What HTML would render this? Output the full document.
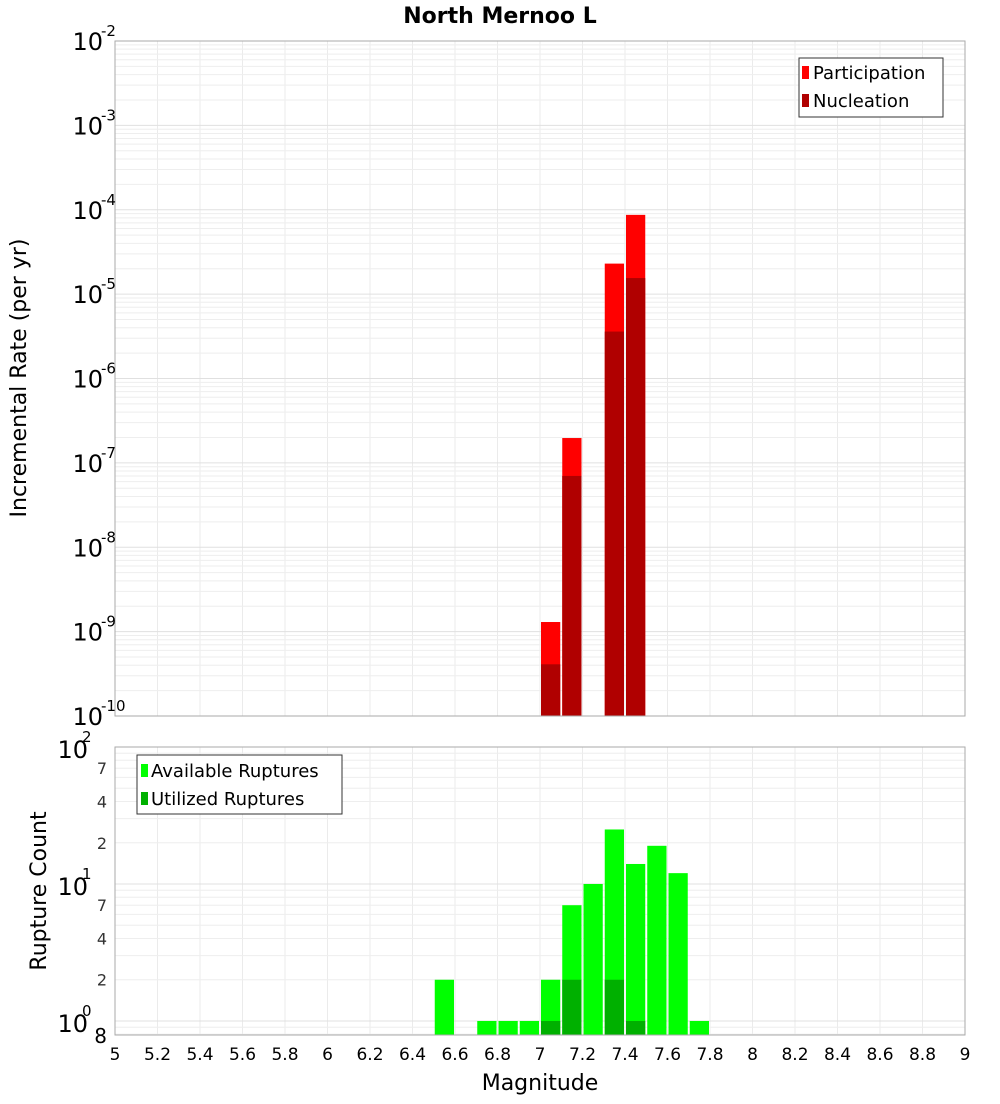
<!DOCTYPE html>
<html><head><meta charset="utf-8"><style>
body{margin:0;background:#fff;font-family:"DejaVu Sans","Liberation Sans",sans-serif}
svg text{font-family:"DejaVu Sans","Liberation Sans",sans-serif}
</style></head><body>
<svg id="c" width="1000" height="1100" xmlns="http://www.w3.org/2000/svg">
<text x="500" y="23" text-anchor="middle" font-size="22" font-weight="bold">North Mernoo L</text>
<text transform="translate(26,378) rotate(-90)" text-anchor="middle" font-size="22">Incremental Rate (per yr)</text>
<text transform="translate(46,891) rotate(-90)" text-anchor="middle" font-size="22">Rupture Count</text>
<text x="540" y="1090" text-anchor="middle" font-size="22">Magnitude</text>
<g id="g"></g>
</svg>
<script>
const magCenters=[7.05,7.15,7.35,7.45];
const participation=[1.3e-9,1.97e-7,2.3e-5,8.7e-5];
const nucleation=[4.1e-10,7e-8,3.6e-6,1.55e-5];
const countMags=[6.55,6.75,6.85,6.95,7.05,7.15,7.25,7.35,7.45,7.55,7.65,7.75];
const available=[2,1,1,1,2,7,10,25,14,19,12,1];
const utilMags=[7.05,7.15,7.35,7.45];
const utilized=[1,2,2,1];
const xTicks=[5,5.2,5.4,5.6,5.8,6,6.2,6.4,6.6,6.8,7,7.2,7.4,7.6,7.8,8,8.2,8.4,8.6,8.8,9];
const topExps=[-2,-3,-4,-5,-6,-7,-8,-9,-10];
const botMinor=[2,4,7,20,40,70];

const NS="http://www.w3.org/2000/svg";
const g=document.getElementById('g');
function el(t,a,txt){const e=document.createElementNS(NS,t);for(const k in a)e.setAttribute(k,a[k]);if(txt!==undefined)e.textContent=txt;g.appendChild(e);return e;}
const L=115,R=965;
const X=m=>L+(m-5)/4*(R-L);
const T0=41,T1=716;
const Yt=v=>T0+(-2-Math.log10(v))/8*(T1-T0);
const B0=747,B1=1035;
const bLo=Math.log10(0.79),bHi=2;
const Yb=v=>B0+(bHi-Math.log10(v))/(bHi-bLo)*(B1-B0);

// panels
let p=el('rect',{x:L,y:T0,width:R-L,height:T1-T0,fill:'#fff',stroke:'none'});

p=el('rect',{x:L,y:B0,width:R-L,height:B1-B0,fill:'#fff',stroke:'none'});

// grids
for(let m=5;m<=9.001;m+=0.2){const x=X(m);
 el('line',{x1:x,x2:x,y1:T0,y2:T1,stroke:'#ebebeb'});
 el('line',{x1:x,x2:x,y1:B0,y2:B1,stroke:'#ebebeb'});}
for(let e=-10;e<-2;e++)for(let k=1;k<10;k++){const y=Yt(k*Math.pow(10,e));
 el('line',{x1:L,x2:R,y1:y,y2:y,stroke:k==1?'#e0e0e0':'#eeeeee'});}
for(let e=-1;e<2;e++)for(let k=1;k<10;k++){const v=k*Math.pow(10,e);if(v<0.79)continue;const y=Yb(v);
 el('line',{x1:L,x2:R,y1:y,y2:y,stroke:k==1?'#e0e0e0':'#eeeeee'});}
// top bars
const bw=0.1*(R-L)/4;
magCenters.forEach((m,i)=>{
 let r=el('rect',{x:X(m)-bw/2+1,y:Yt(participation[i]),width:bw-2,height:T1-Yt(participation[i]),fill:'#ff0000'});
 
 r=el('rect',{x:X(m)-bw/2+1,y:Yt(nucleation[i]),width:bw-2,height:T1-Yt(nucleation[i]),fill:'#b00000'});
 
});
countMags.forEach((m,i)=>{
 const r=el('rect',{x:X(m)-bw/2+1,y:Yb(available[i]),width:bw-2,height:B1-Yb(available[i]),fill:'#00ff00'});
 
});
utilMags.forEach((m,i)=>{
 const r=el('rect',{x:X(m)-bw/2+1,y:Yb(utilized[i]),width:bw-2,height:B1-Yb(utilized[i]),fill:'#00b000'});
 
});
// frames
el('rect',{x:L,y:T0,width:R-L,height:T1-T0,fill:'none',stroke:'#aaaaaa'});
el('rect',{x:L,y:B0,width:R-L,height:B1-B0,fill:'none',stroke:'#aaaaaa'});
// top y ticks
topExps.forEach(e=>{const y=Yt(Math.pow(10,e));
 const t=el('text',{x:L-12,y:y+9,'text-anchor':'end','font-size':24});
 
 t.textContent='10';
 el('text',{x:L-12,y:y-5,'font-size':15,'text-anchor':'start'},String(e)).setAttribute('transform','translate(-2,0)');
});
// bottom y ticks
[[1,'0'],[10,'1'],[100,'2']].forEach(([v,s])=>{const y=Yb(v);
 const t=el('text',{x:L-27,y:y+11,'text-anchor':'end','font-size':24},'10');
 
 el('text',{x:L-33,y:y-5,'font-size':15},s);
});
botMinor.forEach(v=>{const y=Yb(v);
 const t=el('text',{x:L-8,y:y+6,'text-anchor':'end','font-size':16,fill:'#333'},String(v<10?v:v/10));
 
});
el('text',{x:L-8,y:B1+8,'text-anchor':'end','font-size':20},'8');
// x ticks
xTicks.forEach(m=>{const t=el('text',{x:X(m),y:1060,'text-anchor':'middle','font-size':17},String(m));
 });
// legends
let lg=el('rect',{x:799,y:58,width:144,height:59,fill:'#fff',stroke:'#333'});

el('rect',{x:802,y:66,width:7,height:13,fill:'#ff0000'});
el('text',{x:813,y:79,'font-size':18},'Participation');
el('rect',{x:802,y:94,width:7,height:13,fill:'#b00000'});
el('text',{x:813,y:107,'font-size':18},'Nucleation');
lg=el('rect',{x:137,y:755,width:205,height:59,fill:'#fff',stroke:'#333'});

el('rect',{x:141,y:764,width:7,height:13,fill:'#00ff00'});
el('text',{x:151,y:777,'font-size':18},'Available Ruptures');
el('rect',{x:141,y:792,width:7,height:13,fill:'#00b000'});
el('text',{x:151,y:805,'font-size':18},'Utilized Ruptures');
</script>
</body></html>
